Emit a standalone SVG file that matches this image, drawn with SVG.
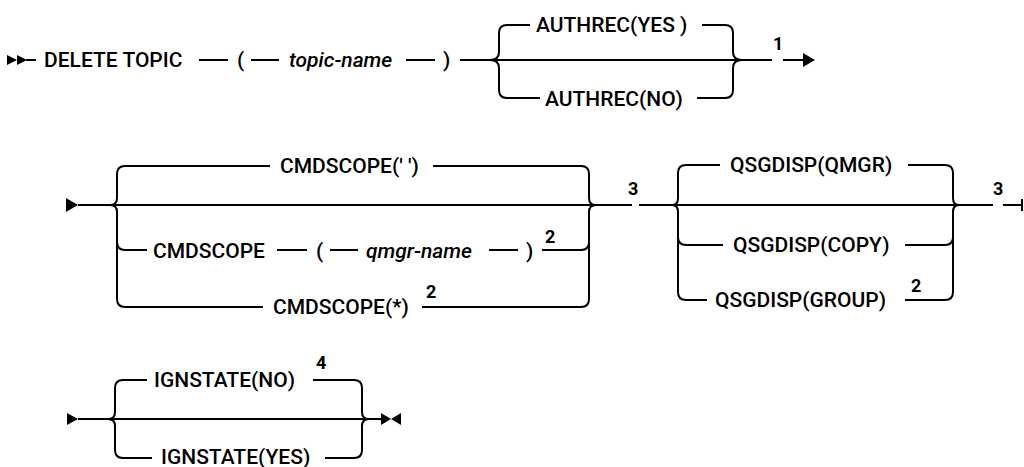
<svg xmlns="http://www.w3.org/2000/svg" width="1024" height="467" viewBox="0 0 1024 467">
<style>
.ln{fill:none;stroke:#000;stroke-width:2}
.ar{fill:#000;stroke:none}
.t{font-family:Roboto,"Liberation Sans",sans-serif;font-size:21px;font-weight:500;fill:#000}
.i{font-style:italic}
.n{font-family:Roboto,"Liberation Sans",sans-serif;font-size:18px;font-weight:700;fill:#000}
</style>
<rect width="1024" height="467" fill="#fff"/>
<g id="connectors">
<!-- row 1 -->
<polygon class="ar" points="7,55 17,60 7,65"/>
<polygon class="ar" points="17,55 27,60 17,65"/>
<path class="ln" d="M26,60H36M199,60H228M251,60H279M406,60H435M460,60H772M783,60H804"/>
<path class="ln" d="M490,60Q499,60 499,52V33Q499,25 507,25H530M490,60Q499,60 499,68V90Q499,98 507,98H540"/>
<path class="ln" d="M702,25H725Q733,25 733,33V52Q733,60 742,60M697,98H725Q733,98 733,90V68Q733,60 742,60"/>
<polygon class="ar" points="803,53 815,60 803,67"/>
<!-- row 2 -->
<polygon class="ar" points="66,198 78,205 66,212"/>
<path class="ln" d="M78,205H632M639,205H993M1003,205H1022M1022,199V211"/>
<path class="ln" d="M110,205Q117,205 117,198V174Q117,166 125,166H270M110,205Q117,205 117,212V299Q117,307 125,307H263M117,242Q117,250 125,250H147"/>
<path class="ln" d="M277,250H307M330,250H358M489,250H518"/>
<path class="ln" d="M433,166H581Q589,166 589,174V198Q589,205 596,205M596,205Q589,205 589,212V299Q589,307 581,307H422M542,250H581Q589,250 589,242"/>
<path class="ln" d="M672,205Q678,205 678,198V173Q678,165 686,165H720M672,205Q678,205 678,212V292Q678,300 686,300H707M678,237Q678,245 686,245H723"/>
<path class="ln" d="M908,165H945Q953,165 953,173V198Q953,205 959,205M959,205Q953,205 953,212V292Q953,300 945,300H905M905,245H945Q953,245 953,237"/>
<!-- row 3 -->
<polygon class="ar" points="67,413 78,419 67,425"/>
<path class="ln" d="M78,419H382"/>
<path class="ln" d="M108,419Q115,419 115,412V388Q115,380 123,380H147M108,419Q115,419 115,426V450Q115,458 123,458H152"/>
<path class="ln" d="M313,380H354Q362,380 362,388V412Q362,419 369,419M325,458H354Q362,458 362,450V426Q362,419 369,419"/>
<polygon class="ar" points="381,413 391,419 381,425"/>
<polygon class="ar" points="401,413 391,419 401,425"/>
</g>
<g id="delete-topic"><text class="t" x="44" y="67">DELETE TOPIC</text></g>
<g id="lparen1"><text class="t" x="237" y="67">(</text></g>
<g id="topic-name"><text class="t i" x="289" y="67">topic-name</text></g>
<g id="rparen1"><text class="t" x="443" y="67">)</text></g>
<g id="authrec-yes"><text class="t" x="536" y="32">AUTHREC(YES )</text></g>
<g id="authrec-no"><text class="t" x="545" y="106">AUTHREC(NO)</text></g>
<g id="note1"><text class="n" x="773" y="50">1</text></g>
<g id="cmdscope-blank"><text class="t" x="280" y="173">CMDSCOPE(' ')</text></g>
<g id="cmdscope"><text class="t" x="153" y="258">CMDSCOPE</text></g>
<g id="lparen2"><text class="t" x="316" y="258">(</text></g>
<g id="qmgr-name"><text class="t i" x="366" y="258">qmgr-name</text></g>
<g id="rparen2"><text class="t" x="526" y="258">)</text></g>
<g id="note2a"><text class="n" x="545" y="243">2</text></g>
<g id="cmdscope-star"><text class="t" x="273" y="314">CMDSCOPE(*)</text></g>
<g id="note2b"><text class="n" x="426" y="298">2</text></g>
<g id="note3a"><text class="n" x="628" y="195">3</text></g>
<g id="qsgdisp-qmgr"><text class="t" x="730" y="172">QSGDISP(QMGR)</text></g>
<g id="qsgdisp-copy"><text class="t" x="733" y="252">QSGDISP(COPY)</text></g>
<g id="qsgdisp-group"><text class="t" x="715" y="307">QSGDISP(GROUP)</text></g>
<g id="note2c"><text class="n" x="911" y="292">2</text></g>
<g id="note3b"><text class="n" x="993" y="195">3</text></g>
<g id="ignstate-no"><text class="t" x="154" y="387">IGNSTATE(NO)</text></g>
<g id="note4"><text class="n" x="316" y="369">4</text></g>
<g id="ignstate-yes"><text class="t" x="161" y="464">IGNSTATE(YES)</text></g>
</svg>
